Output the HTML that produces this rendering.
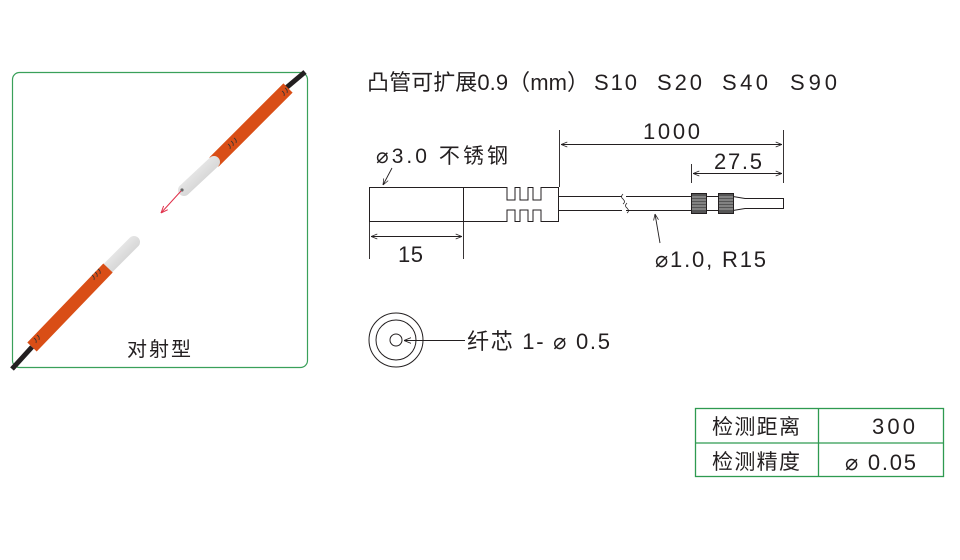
<!DOCTYPE html>
<html><head><meta charset="utf-8"><style>
html,body{margin:0;padding:0;background:#fff;}
svg{display:block;}
text{font-family:"Liberation Sans","Noto Sans CJK SC",sans-serif;fill:#231f20;}
</style></head><body>
<svg width="960" height="560" viewBox="0 0 960 560" xmlns="http://www.w3.org/2000/svg">
<defs>
<marker id="ar" viewBox="0 0 10 10" refX="10" refY="5" markerWidth="7" markerHeight="7" orient="auto-start-reverse"><path d="M0,1 L10,5 L0,9" fill="none" stroke="#231f20" stroke-width="1.2"/></marker>
<marker id="rr" viewBox="0 0 10 10" refX="10" refY="5" markerWidth="7" markerHeight="7" orient="auto"><path d="M0,1 L10,5 L0,9" fill="none" stroke="#e0304a" stroke-width="1.4"/></marker>
<linearGradient id="wt" x1="0" y1="0" x2="1" y2="1"><stop offset="0" stop-color="#f4f4f4"/><stop offset="1" stop-color="#c8c8c8"/></linearGradient>
</defs>
<rect x="12.5" y="72.5" width="295" height="295" rx="7" fill="none" stroke="#3aa05a" stroke-width="1.2"/>
<line x1="305" y1="72" x2="286" y2="88" stroke="#231f20" stroke-width="5"/>
<line x1="288" y1="88" x2="214" y2="162" stroke="#d94e16" stroke-width="13"/>
<line x1="214" y1="162" x2="184" y2="190" stroke="url(#wt)" stroke-width="12" stroke-linecap="round"/>
<g stroke="#333" stroke-width="0.8" fill="none"><path d="M228,144 q3,2 2,5 M231,141 q3,2 2,5 M234,138 q3,2 2,5 M282,91 q3,2 2,5 M285,88 q3,2 2,5"/></g>
<circle cx="182" cy="190" r="1.6" fill="#666"/>
<line x1="181" y1="191" x2="161" y2="213" stroke="#e0304a" stroke-width="1" marker-end="url(#rr)"/>
<line x1="134" y1="242" x2="108" y2="268" stroke="url(#wt)" stroke-width="12" stroke-linecap="round"/>
<line x1="108" y1="268" x2="32" y2="347" stroke="#d94e16" stroke-width="13"/>
<g stroke="#333" stroke-width="0.8" fill="none"><path d="M92,275 q3,2 2,5 M95,272 q3,2 2,5 M98,269 q3,2 2,5 M34,338 q3,2 2,5 M37,335 q3,2 2,5"/></g>
<line x1="32" y1="347" x2="12" y2="369" stroke="#231f20" stroke-width="5"/>
<text x="127" y="356" font-size="20" textLength="64">对射型</text>

<text x="367" y="90" font-size="22" textLength="222">凸管可扩展0.9（mm）</text>
<text x="594" y="90" font-size="22" textLength="43">S10</text>
<text x="657" y="90" font-size="22" textLength="45">S20</text>
<text x="722" y="90" font-size="22" textLength="46">S40</text>
<text x="790" y="90" font-size="22" textLength="47">S90</text>

<g fill="none" stroke="#231f20" stroke-width="1">
<rect x="369.5" y="187.5" width="94" height="34"/>
<path d="M463.5,187.5 H507 V200 H515 V187.5 H520 V200 H528 V187.5 H533 V200 H541 V187.5 H558.5 V221.5 H541 V210 H533 V221.5 H528 V210 H520 V221.5 H515 V210 H507 V221.5 H463.5"/>
<path d="M558.5,196.5 H622 M626,196.5 H691 M558.5,210.5 H622 M626,210.5 H691"/>
<path d="M623,194 q-3,3 0,5 q3,3 0,5 M627,203 q-3,3 0,5 q3,3 0,5" stroke-width="0.8"/>
<path d="M706,196.5 H718 M706,210.5 H718"/>
<path d="M733,196.5 L745,198.5 H783.5 V208.5 H745 L733,210.5"/>
</g>
<g fill="#555" stroke="#231f20" stroke-width="1">
<rect x="691.5" y="193.5" width="15" height="20"/>
<rect x="718.5" y="193.5" width="15" height="20"/>
</g>
<g stroke="#ccc" stroke-width="0.8">
<path d="M692,197 h14 M692,200 h14 M692,203 h14 M692,206 h14 M692,209 h14 M719,197 h14 M719,200 h14 M719,203 h14 M719,206 h14 M719,209 h14"/>
</g>
<g stroke="#231f20" stroke-width="0.9" fill="none">
<path d="M559.5,130 V187 M783.5,130 V183 M691.5,164 V183 M369.5,221 V259 M463.5,221 V259"/>
<line x1="561" y1="144.5" x2="782" y2="144.5" marker-start="url(#ar)" marker-end="url(#ar)"/>
<line x1="693" y1="173.5" x2="782" y2="173.5" marker-start="url(#ar)" marker-end="url(#ar)"/>
<line x1="371" y1="236.5" x2="462" y2="236.5" marker-start="url(#ar)" marker-end="url(#ar)"/>
<line x1="392" y1="168" x2="383" y2="185" marker-end="url(#ar)"/>
<line x1="660" y1="243" x2="655" y2="214" marker-end="url(#ar)"/>
</g>
<text x="643" y="139" font-size="22" textLength="57">1000</text>
<text x="714" y="169" font-size="22" textLength="48">27.5</text>
<text x="398" y="262" font-size="22" textLength="25">15</text>
<text x="376" y="163" font-size="21" textLength="132">⌀3.0  不锈钢</text>
<text x="655" y="267" font-size="22" textLength="111">⌀1.0,  R15</text>

<g fill="none" stroke="#231f20" stroke-width="1">
<circle cx="396" cy="340" r="27"/>
<circle cx="396" cy="340" r="20"/>
<circle cx="396" cy="340" r="6"/>
<line x1="465" y1="340.5" x2="404" y2="340.5" marker-end="url(#ar)"/>
</g>
<text x="467" y="349" font-size="22" textLength="143">纤芯 1-  ⌀ 0.5</text>

<g fill="none" stroke="#2e9a50" stroke-width="1.3">
<rect x="695.5" y="408.5" width="248" height="68"/>
<line x1="695" y1="443" x2="944" y2="443"/>
<line x1="818.5" y1="408" x2="818.5" y2="477"/>
</g>
<text x="712" y="434" font-size="21" textLength="88">检测距离</text>
<text x="712" y="469" font-size="21" textLength="88">检测精度</text>
<text x="872" y="434" font-size="22" textLength="43">300</text>
<text x="845" y="470" font-size="22" textLength="71">⌀ 0.05</text>
</svg>
</body></html>
